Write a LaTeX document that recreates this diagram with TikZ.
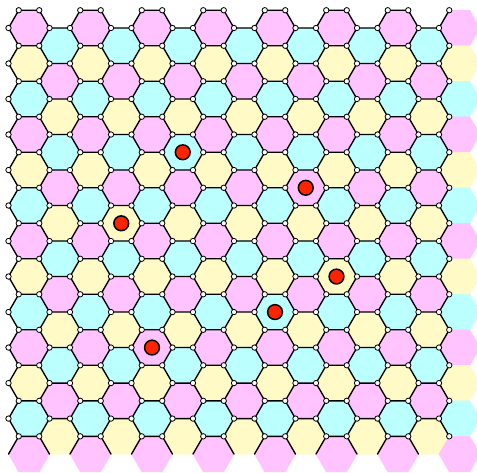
\documentclass[tikz,border=0pt]{standalone}
\definecolor{hpink}{RGB}{255,196,255}
\definecolor{hyellow}{RGB}{255,250,198}
\definecolor{hcyan}{RGB}{188,255,255}
\definecolor{dotred}{RGB}{255,36,0}
\begin{document}
\begin{tikzpicture}[x=1pt,y=-1pt,
  bond/.style={line width=1.35pt, line cap=round, line join=round},
  site/.style={circle, draw=black, fill=white, line width=0.8pt, inner sep=0pt, minimum size=5.4pt},
  adatom/.style={circle, draw=black, fill=dotred, line width=1.5pt, inner sep=0pt, minimum size=14.8pt}]
\useasboundingbox (0,0) rectangle (477,472);
\clip (0,0) rectangle (477,472);
\def\S{20.5}
\def\H{35.507}
% lattice corner coordinates of every hexagon
\foreach \k in {-1,...,14}{
  \pgfmathtruncatemacro{\odd}{mod(\k+2,2)}
  \pgfmathsetmacro{\cx}{29+30.75*\k}
  \foreach \r in {0,...,12}{
    \pgfmathsetmacro{\cy}{28+\H*\r+17.7535*\odd}
    \coordinate (h\k-\r-c) at (\cx,\cy);
    \coordinate (h\k-\r-1) at (\cx+\S,\cy);
    \coordinate (h\k-\r-2) at (\cx+\S/2,\cy-\H/2);
    \coordinate (h\k-\r-3) at (\cx-\S/2,\cy-\H/2);
    \coordinate (h\k-\r-4) at (\cx-\S,\cy);
    \coordinate (h\k-\r-5) at (\cx-\S/2,\cy+\H/2);
    \coordinate (h\k-\r-6) at (\cx+\S/2,\cy+\H/2);
  }
}
% coloured faces
\foreach \k in {0,...,14}{
  \pgfmathtruncatemacro{\odd}{mod(\k,2)}
  \pgfmathtruncatemacro{\rmax}{12-\odd}
  \foreach \r in {0,...,\rmax}{
    \pgfmathtruncatemacro{\c}{mod(\r+2*\odd,3)}
    \ifcase\c \def\col{hpink}\or \def\col{hyellow}\or \def\col{hcyan}\fi
    \fill[\col, draw=\col, line width=0.5pt] (h\k-\r-1) -- (h\k-\r-2) -- (h\k-\r-3) -- (h\k-\r-4) -- (h\k-\r-5) -- (h\k-\r-6) -- cycle;
  }
}
% bonds
\foreach \r in {0,...,11}{
  \draw[bond] (h-1-\r-2) -- (h-1-\r-1);
}
\foreach \k in {0,2,...,12}{
  \foreach \r in {0,...,12}{
    \draw[bond] (h\k-\r-4) -- (h\k-\r-3) -- (h\k-\r-2) -- (h\k-\r-1);
  }
}
\foreach \k in {1,3,...,13}{
  \foreach \r in {0,...,11}{
    \draw[bond] (h\k-\r-4) -- (h\k-\r-3) -- (h\k-\r-2) -- (h\k-\r-1);
  }
}
\foreach \r in {0,...,11}{
  \draw[bond] (h14-\r-4) -- (h14-\r-3);
}
% lattice sites
\foreach \k in {0,2,...,12}{
  \foreach \r in {0,...,12}{
    \node[site] (s\k-\r-a) at (h\k-\r-3) {};
    \node[site] (s\k-\r-b) at (h\k-\r-2) {};
  }
  \foreach \r in {0,...,11}{
    \node[site] (s\k-\r-l) at (h\k-\r-4) {};
    \node[site] (s\k-\r-m) at (h\k-\r-1) {};
  }
}
\foreach \r in {0,...,12}{
  \node[site] (s14-\r-a) at (h14-\r-3) {};
}
\foreach \r in {0,...,11}{
  \node[site] (s14-\r-l) at (h14-\r-4) {};
}
% adatoms
\node[adatom] (a1) at (h5-3-c) {};
\node[adatom] (a2) at (h9-4-c) {};
\node[adatom] (a3) at (h3-5-c) {};
\node[adatom] (a4) at (h10-7-c) {};
\node[adatom] (a5) at (h8-8-c) {};
\node[adatom] (a6) at (h4-9-c) {};
\end{tikzpicture}
\end{document}
